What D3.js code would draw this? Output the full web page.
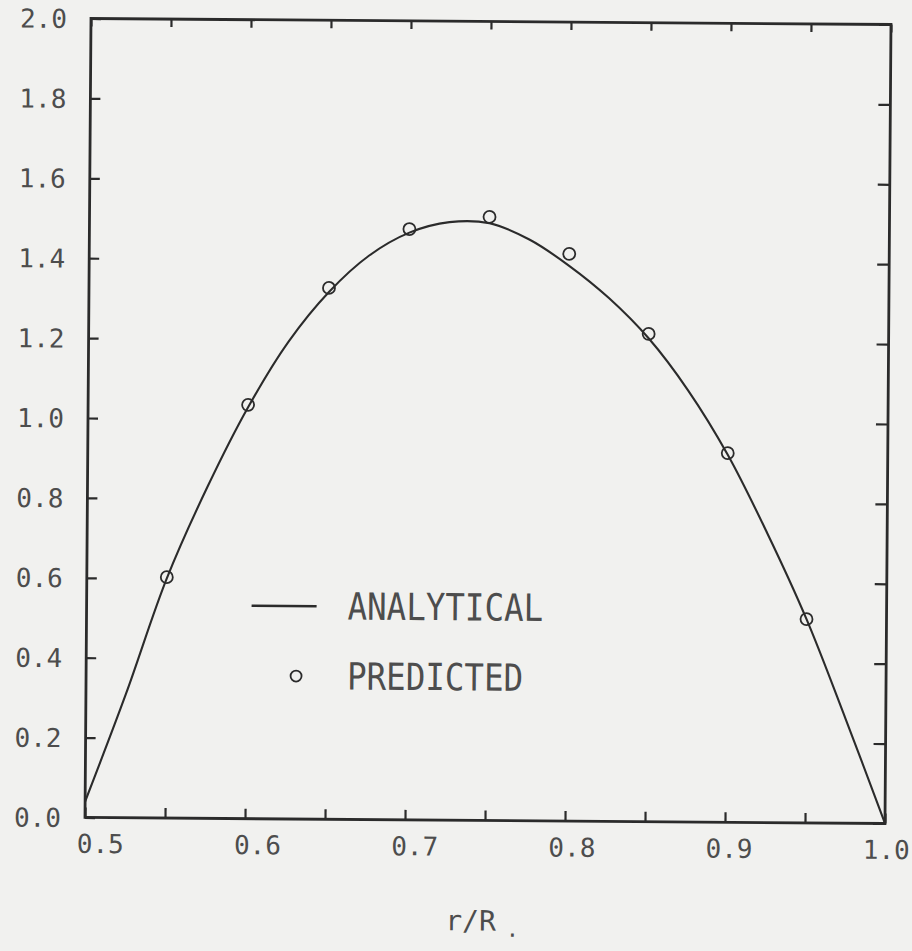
<!DOCTYPE html>
<html>
<head>
<meta charset="utf-8">
<script src="https://cdn.jsdelivr.net/npm/d3@7/dist/d3.min.js"></script>
<style>
  html, body { margin: 0; padding: 0; background: #f1f1ef; }
  svg { display: block; }
  text { font-family: "DejaVu Sans Mono", "Liberation Mono", monospace; fill: #4d4d4d; }
</style>
</head>
<body>
<svg id="chart" width="912" height="951"></svg>
<script>
// Analytical profile across the gap, r/R from 0.5 to 1.0
const analyticR = [0.50, 0.525, 0.55, 0.575, 0.60, 0.625, 0.65, 0.675, 0.70, 0.725, 0.75, 0.775, 0.80, 0.825, 0.85, 0.875, 0.90, 0.925, 0.95, 0.975, 1.00];
const analyticV = [0.04, 0.31, 0.60, 0.83, 1.03, 1.195, 1.32, 1.412, 1.47, 1.497, 1.495, 1.455, 1.39, 1.31, 1.21, 1.08, 0.92, 0.725, 0.51, 0.26, 0.00];

// Predicted values at discrete radii
const predictedR = [0.55, 0.60, 0.65, 0.70, 0.75, 0.80, 0.85, 0.90, 0.95];
const predictedV = [0.603, 1.036, 1.33, 1.479, 1.511, 1.42, 1.221, 0.924, 0.51];

// Axis ticks and labels
const xMajor = [0.5, 0.6, 0.7, 0.8, 0.9, 1.0];
const xMajorLabels = ["0.5", "0.6", "0.7", "0.8", "0.9", "1.0"];
const xMinor = [0.55, 0.65, 0.75, 0.85, 0.95];
const yTicks = [0.0, 0.2, 0.4, 0.6, 0.8, 1.0, 1.2, 1.4, 1.6, 1.8, 2.0];
const yTickLabels = ["0.0", "0.2", "0.4", "0.6", "0.8", "1.0", "1.2", "1.4", "1.6", "1.8", "2.0"];
const legendLabels = ["ANALYTICAL", "PREDICTED"];
const xTitle = "r/R";

const W = 800, H = 799;
const ink = "#2b2b2b";

const svg = d3.select("#chart");
svg.append("rect").attr("width", 912).attr("height", 951).attr("fill", "#f1f1ef");

// the whole sheet sits slightly tilted
const g = svg.append("g").attr("transform", "translate(91,18.5) rotate(0.43)");

const x = d3.scaleLinear().domain([0.5, 1.0]).range([0, W]);
const y = d3.scaleLinear().domain([0, 2.0]).range([H, 0]);
// typed x labels run on a slightly tighter pitch than the ticks
const xLab = d3.scaleLinear().domain([0.5, 1.0]).range([15, 801]);

const fontTick = 26;

// left axis: inward ticks with labels
const axLeft = g.append("g")
  .call(d3.axisLeft(y).tickValues(yTicks).tickSize(-10).tickPadding(24)
    .tickFormat((d, i) => yTickLabels[i]));
// right axis: inward ticks only
const axRight = g.append("g").attr("transform", `translate(${W},0)`)
  .call(d3.axisRight(y).tickValues(yTicks).tickSize(-12).tickFormat(""));
// bottom axis: every 0.05, labels on the tenths
const xAll = xMajor.concat(xMinor).sort(d3.ascending);
const axBottom = g.append("g").attr("transform", `translate(0,${H})`)
  .call(d3.axisBottom(x).tickValues(xAll).tickSize(-10).tickPadding(17)
    .tickFormat(d => { const k = xMajor.indexOf(d); return k >= 0 ? xMajorLabels[k] : ""; }));
// top axis: ticks only
const axTop = g.append("g")
  .call(d3.axisTop(x).tickValues(xAll).tickSize(-8).tickFormat(""));

[axLeft, axRight, axBottom, axTop].forEach(a => {
  a.select(".domain").remove();
  a.selectAll(".tick line").attr("stroke", ink).attr("stroke-width", 2.2);
  a.selectAll(".tick text")
    .attr("font-size", fontTick)
    .attr("fill", "#4d4d4d")
    .style("font-family", '"DejaVu Sans Mono", "Liberation Mono", monospace');
});
axLeft.selectAll(".tick text").attr("dy", "0.35em");
axBottom.selectAll(".tick text").attr("dx", d => xLab(d) - x(d)).attr("dy", "0.71em");

// frame
g.append("rect").attr("x", 0).attr("y", 0).attr("width", W).attr("height", H)
  .attr("fill", "none").attr("stroke", ink).attr("stroke-width", 2.8);

// analytical curve
const pts = analyticR.map((r, i) => [r, analyticV[i]]);
g.append("path")
  .datum(pts)
  .attr("fill", "none")
  .attr("stroke", ink)
  .attr("stroke-width", 2.1)
  .attr("d", d3.line().x(d => x(d[0])).y(d => y(d[1])).curve(d3.curveCatmullRom.alpha(0.5)));

// predicted points
g.append("g").selectAll("circle")
  .data(predictedR.map((r, i) => [r, predictedV[i]]))
  .join("circle")
  .attr("cx", d => x(d[0]))
  .attr("cy", d => y(d[1]))
  .attr("r", 6)
  .attr("fill", "none")
  .attr("stroke", ink)
  .attr("stroke-width", 1.8);

// legend
const leg = g.append("g");
const legFont = 32.5;
const legY = [586, 656];
leg.append("line")
  .attr("x1", 165).attr("x2", 230).attr("y1", legY[0]).attr("y2", legY[0])
  .attr("stroke", ink).attr("stroke-width", 2.4);
leg.append("circle")
  .attr("cx", 210).attr("cy", legY[1]).attr("r", 5.5)
  .attr("fill", "none").attr("stroke", ink).attr("stroke-width", 1.8);
legendLabels.forEach((t, i) => {
  leg.append("text")
    .attr("x", 261).attr("y", legY[i]).attr("dy", "0.35em")
    .attr("font-size", legFont)
    .attr("transform", `translate(0,${legY[i]}) scale(1,1.15) translate(0,${-legY[i]})`)
    .text(t);
});

// x axis title
const title = g.append("text")
  .attr("x", x(0.75) - 2).attr("y", H + 110)
  .attr("text-anchor", "middle")
  .attr("font-size", 28);
title.append("tspan").text(xTitle);
title.append("tspan").attr("dx", 10).attr("dy", 6).attr("font-size", 22).text(".");
</script>
</body>
</html>
